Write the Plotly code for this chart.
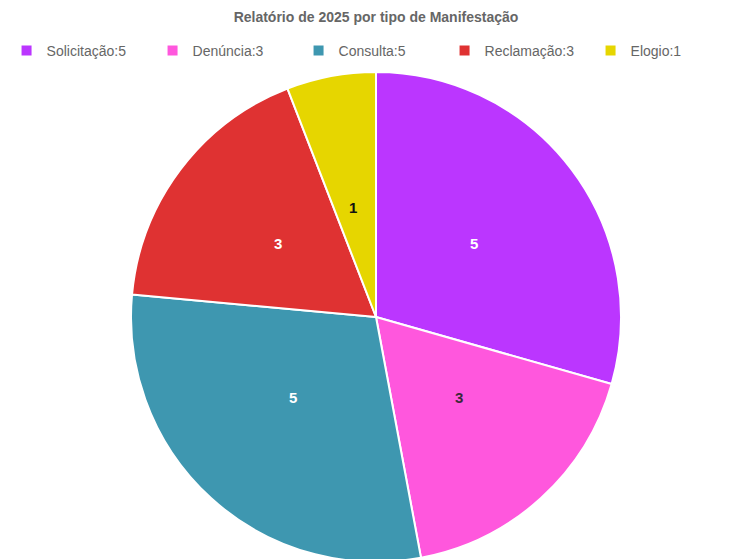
import math
import plotly.graph_objects as go

categories = ["Solicitação", "Denúncia", "Consulta", "Reclamação", "Elogio"]
values = [5, 3, 5, 3, 1]
colors = ["#BB36FF", "#FF57DD", "#3E97B0", "#DF3232", "#E6D600"]
text_colors = ["#FFFFFF", "#3a2a3a", "#FFFFFF", "#FFFFFF", "#111111"]
title_text = "Relatório de 2025 por tipo de Manifestação"

labels = [f"{c}:{v}" for c, v in zip(categories, values)]

W, H = 745, 559
# page body has an 8px margin; figure coords are offset by it
M_L, M_R, M_T, M_B = 0, 9, 64, 5
plot_w = W - M_L - M_R
plot_h = H - M_T - M_B

fig = go.Figure(
    go.Pie(
        labels=labels,
        values=values,
        textinfo="none",
        sort=False,
        direction="clockwise",
        rotation=0,
        marker=dict(colors=colors, line=dict(color="#FFFFFF", width=2)),
        hoverinfo="label+value",
    )
)

# value labels at the middle of each slice (half radius, mid angle)
total = sum(values)
R = min(plot_w, plot_h) / 2
cum = 0
for v, tc in zip(values, text_colors):
    mid = (cum + v / 2) / total * 2 * math.pi
    cum += v
    dx = 0.5 * R * math.sin(mid) / plot_w
    dy = 0.5 * R * math.cos(mid) / plot_h
    fig.add_annotation(
        x=0.5 + dx, y=0.5 + dy, xref="paper", yref="paper",
        text=f"<b>{v}</b>", showarrow=False,
        font=dict(family="Liberation Sans, Arial, sans-serif", size=15, color=tc),
    )

fig.update_layout(
    width=W,
    height=H,
    paper_bgcolor="#FFFFFF",
    plot_bgcolor="#FFFFFF",
    margin=dict(l=M_L, r=M_R, t=M_T, b=M_B, autoexpand=False),
    font=dict(family="Liberation Sans, Arial, sans-serif", size=13, color="#666666"),
    title=dict(
        text=f"<b>{title_text}</b>",
        x=368 / W,
        xanchor="center",
        y=1 - 9 / H,
        yref="container",
        yanchor="middle",
        font=dict(size=14, color="#666666"),
    ),
    legend=dict(
        orientation="h",
        x=368 / W,
        xanchor="center",
        y=1 - 43 / H,
        yref="container",
        yanchor="middle",
        font=dict(size=14, color="#666666"),
        itemsizing="constant",
        traceorder="normal",
        entrywidth=101,
        entrywidthmode="pixels",
    ),
)

fig.write_html("out.html")
